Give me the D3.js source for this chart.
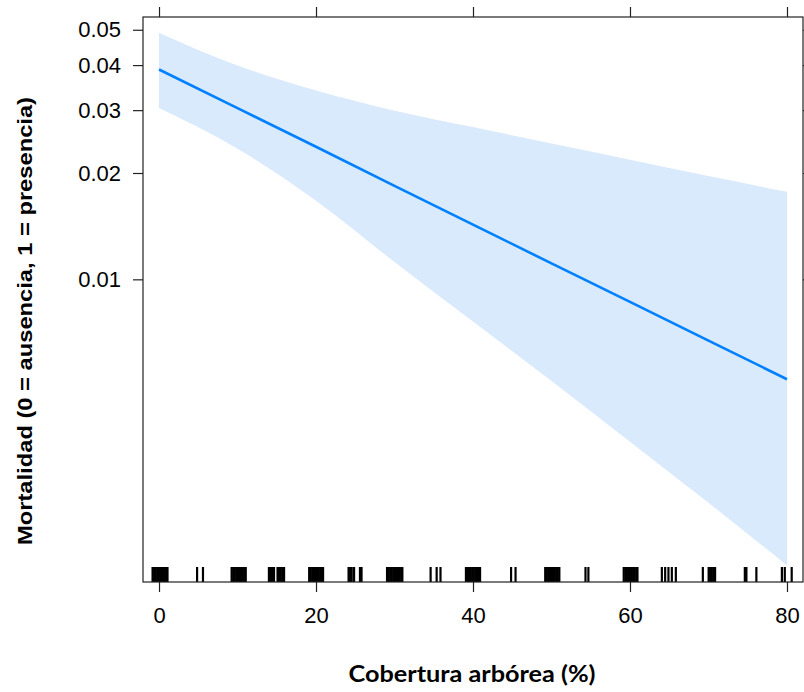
<!DOCTYPE html>
<html>
<head>
<meta charset="utf-8">
<script src="https://cdn.jsdelivr.net/npm/d3@7"></script>
<style>
  body { margin: 0; background: #fff; }
  svg { display: block; }
  .tick text { font-family: "Liberation Sans", Arial, sans-serif; font-size: 22px; fill: #000; }
  .tick line { stroke: #222; stroke-width: 1.2; }
</style>
</head>
<body>
<svg id="chart"></svg>
<script>
// cobertura arbórea (%) at which the effect was read
const cobertura = [0, 10, 20, 30, 40, 50, 60, 70, 80];
// fitted probability and 95% band
const fitProb   = [0.0389, 0.0304, 0.0237, 0.0184, 0.0143, 0.0111, 0.00863, 0.00669, 0.00519];
const upperProb = [0.0491, 0.0399, 0.0340, 0.0299, 0.0269, 0.0242, 0.0218, 0.0196, 0.0177];
const lowerProb = [0.0304, 0.0234, 0.0167, 0.0112, 0.00758, 0.00513, 0.00344, 0.00230, 0.00152];

// observed (jittered) cobertura values for the rug
const rugValues = [
  -0.82, -0.62, -0.42, -0.22, -0.02, 0.18, 0.38, 0.58, 0.78, 0.98, 1.08,
  4.85, 5.6,
  9.25, 9.45, 9.65, 9.85, 10.05, 10.25, 10.45, 10.65, 10.85, 11.05,
  14.0, 14.2, 14.4, 14.65, 15.1, 15.3, 15.5, 15.7, 15.93,
  19.13, 19.33, 19.53, 19.73, 19.93, 20.13, 20.33, 20.53, 20.73, 20.9,
  24.15, 24.35, 24.55, 24.85, 25.6, 25.8,
  29.05, 29.25, 29.45, 29.65, 29.85, 30.05, 30.25, 30.45, 30.65, 30.85, 31.0,
  34.6, 35.37, 35.86,
  39.1, 39.3, 39.5, 39.7, 39.9, 40.1, 40.3, 40.5, 40.7, 40.9,
  44.85, 45.42,
  49.2, 49.4, 49.6, 49.8, 50.0, 50.2, 50.4, 50.6, 50.8, 51.0,
  54.33, 54.7,
  59.2, 59.4, 59.6, 59.8, 60.0, 60.2, 60.4, 60.6, 60.8, 60.95,
  64.06, 64.48, 64.9, 65.33, 65.84,
  69.28, 70.02, 70.22, 70.42, 70.62, 70.84,
  74.63, 74.83, 76.1,
  79.35, 79.72, 80.6
];

const xTicks = [0, 20, 40, 60, 80];
const yTicks = [0.01, 0.02, 0.03, 0.04, 0.05];
const yTickLabels = ["0.01", "0.02", "0.03", "0.04", "0.05"];

const svgWidth = 804;
const svgHeight = 692;
const plotLeft = 143, plotRight = 803, plotTop = 17, plotBottom = 582;

const logit = (p) => Math.log(p / (1 - p));

const svg = d3.select("#chart").attr("width", svgWidth).attr("height", svgHeight);

const xScale = d3.scaleLinear().domain([-2.04, 82.04]).range([plotLeft, plotRight]);
// y axis on the logit scale
const yScale = d3.scaleLinear().domain([-6.597, -2.860]).range([plotBottom, plotTop]);
const yPos = (p) => yScale(logit(p));

svg.append("clipPath").attr("id", "plot-clip")
  .append("rect")
  .attr("x", plotLeft).attr("y", plotTop)
  .attr("width", plotRight - plotLeft).attr("height", plotBottom - plotTop);

const plot = svg.append("g").attr("clip-path", "url(#plot-clip)");

const band = d3.area()
  .x((d, i) => xScale(cobertura[i]))
  .y0((d, i) => yPos(lowerProb[i]))
  .y1((d, i) => yPos(upperProb[i]))
  .curve(d3.curveMonotoneX);

plot.append("path")
  .datum(cobertura)
  .attr("d", band)
  .attr("fill", "#d9eafd");

const fitLine = d3.line()
  .x((d, i) => xScale(cobertura[i]))
  .y((d, i) => yPos(fitProb[i]));

plot.append("path")
  .datum(cobertura)
  .attr("d", fitLine)
  .attr("fill", "none")
  .attr("stroke", "#0080ff")
  .attr("stroke-width", 2.6);

plot.selectAll("line.rug")
  .data(rugValues)
  .enter()
  .append("line")
  .attr("class", "rug")
  .attr("x1", (d) => xScale(d))
  .attr("x2", (d) => xScale(d))
  .attr("y1", plotBottom - 15)
  .attr("y2", plotBottom)
  .attr("stroke", "#000")
  .attr("stroke-width", 2.2);

// axes
const xAxis = d3.axisBottom(xScale).tickValues(xTicks).tickSize(10).tickSizeOuter(0).tickPadding(15);
const gx = svg.append("g").attr("transform", `translate(0, ${plotBottom})`).call(xAxis);

const xTop = d3.axisTop(xScale).tickValues(xTicks).tickSize(10).tickSizeOuter(0).tickFormat("");
const gxt = svg.append("g").attr("transform", `translate(0, ${plotTop})`).call(xTop);

const yAxis = d3.axisLeft(yScale)
  .tickValues(yTicks.map(logit))
  .tickFormat((d, i) => yTickLabels[i])
  .tickSize(10).tickSizeOuter(0).tickPadding(12);
const gy = svg.append("g").attr("transform", `translate(${plotLeft}, 0)`).call(yAxis);

const yRight = d3.axisRight(yScale).tickValues(yTicks.map(logit)).tickSize(10).tickSizeOuter(0).tickFormat("");
const gyr = svg.append("g").attr("transform", `translate(${plotRight}, 0)`).call(yRight);

[gx, gxt, gy, gyr].forEach((g) => g.select(".domain").remove());

svg.append("rect")
  .attr("x", plotLeft).attr("y", plotTop)
  .attr("width", plotRight - plotLeft).attr("height", plotBottom - plotTop)
  .attr("fill", "none")
  .attr("stroke", "#222")
  .attr("stroke-width", 1.2);

svg.append("text")
  .attr("x", 472)
  .attr("y", 682)
  .attr("text-anchor", "middle")
  .attr("textLength", 247)
  .attr("lengthAdjust", "spacingAndGlyphs")
  .style("font-family", "Lato, 'Open Sans', sans-serif")
  .style("font-weight", "bold")
  .style("font-size", "22px")
  .text("Cobertura arbórea (%)");

svg.append("text")
  .attr("transform", "translate(32, 321) rotate(-90)")
  .attr("text-anchor", "middle")
  .attr("textLength", 448)
  .attr("lengthAdjust", "spacingAndGlyphs")
  .style("font-family", "'Liberation Sans', Arial, sans-serif")
  .style("font-weight", "bold")
  .style("font-size", "21px")
  .text("Mortalidad (0 = ausencia, 1 = presencia)");
</script>
</body>
</html>
